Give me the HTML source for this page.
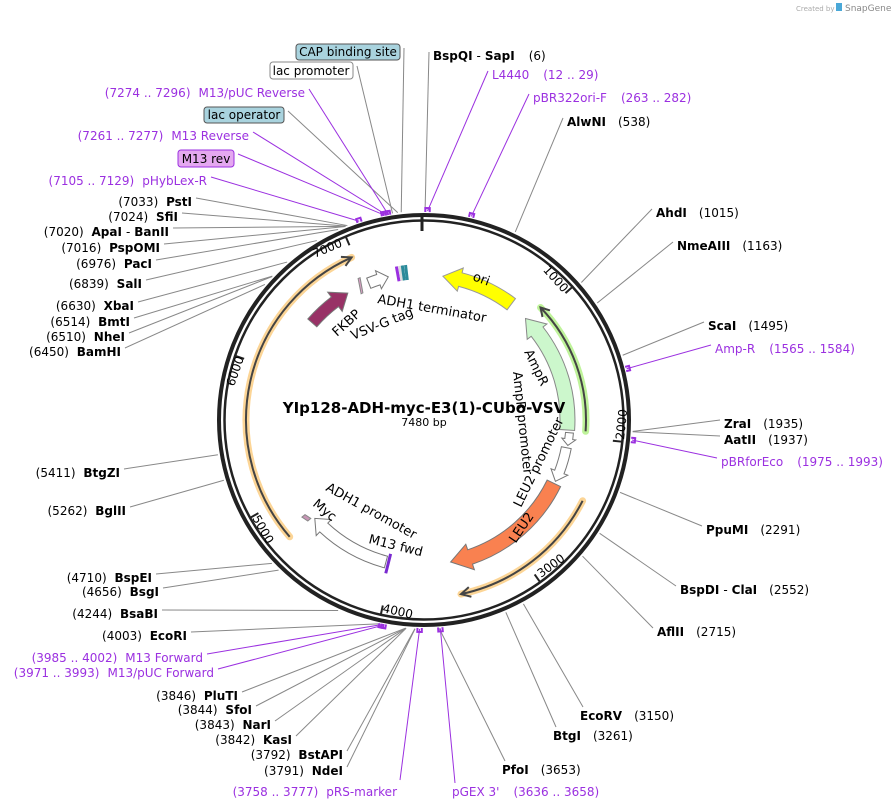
<!DOCTYPE html>
<html><head><meta charset="utf-8">
<style>
html,body{margin:0;padding:0;background:#fff;}
svg{display:block;font-family:"DejaVu Sans","Liberation Sans",sans-serif;}
.n{font-size:12px;fill:#000;}
.b{font-weight:bold;}
.p{fill:#9b30e0;font-size:12px;}
.f{font-size:13px;fill:#000;}
.t{font-size:12px;fill:#000;}
</style></head>
<body>
<svg id="s" width="894" height="811" viewBox="0 0 894 811" xmlns="http://www.w3.org/2000/svg">
<g id="geo"></g>
<circle cx="424" cy="420" r="205" fill="none" stroke="#222" stroke-width="4"/>
<circle cx="424" cy="420" r="199.5" fill="none" stroke="#222" stroke-width="2.5"/>
<rect x="420.5" y="215" width="3" height="16" fill="#222"/>
<g id="geo2"></g>

<text x="424" y="413" text-anchor="middle" style="font-size:15px;font-weight:bold">YIp128-ADH-myc-E3(1)-CUbo-VSV</text>
<text x="424" y="426" text-anchor="middle" style="font-size:11px">7480 bp</text>

<text class="t" transform="translate(563,293) rotate(48)" text-anchor="end">1000</text>
<text class="t" transform="translate(624,440) rotate(-84)" text-anchor="start">2000</text>
<text class="t" transform="translate(541,578) rotate(-36)" text-anchor="start">3000</text>
<text class="t" transform="translate(382,612) rotate(12.5)" text-anchor="start">4000</text>
<text class="t" transform="translate(252,518) rotate(60.6)" text-anchor="start">5000</text>
<text class="t" transform="translate(244,358) rotate(-71)" text-anchor="end">6000</text>
<text class="t" transform="translate(343,246) rotate(-23)" text-anchor="end">7000</text>

<text class="f" transform="translate(472,280) rotate(20)">ori</text>
<text class="f" transform="translate(377,303) rotate(10)">ADH1 terminator</text>
<text class="f" transform="translate(353,340) rotate(-22)">VSV-G tag</text>
<text class="f" transform="translate(337,337) rotate(-42)">FKBP</text>
<text class="f" transform="translate(524,352) rotate(64)">AmpR</text>
<text class="f" transform="translate(513,372) rotate(84)">AmpR promoter</text>
<text class="f" transform="translate(521,508) rotate(-64)">LEU2 promoter</text>
<text class="f" transform="translate(522,528) rotate(-56)" text-anchor="middle" dominant-baseline="central">LEU2</text>
<text class="f" transform="translate(325,490) rotate(29)">ADH1 promoter</text>
<text class="f" transform="translate(312,505) rotate(40)">Myc</text>
<text class="f" transform="translate(368,543) rotate(14)">M13 fwd</text>

<rect x="296" y="44" width="104" height="16" rx="3" fill="#a9d3de" stroke="#555"/>
<text class="n" x="348" y="56" text-anchor="middle">CAP binding site</text>
<rect x="270" y="62" width="83" height="17" rx="3" fill="#fff" stroke="#888"/>
<text class="n" x="311" y="75" text-anchor="middle">lac promoter</text>
<rect x="204" y="107" width="80" height="16" rx="3" fill="#a9d3de" stroke="#555"/>
<text class="n" x="244" y="119" text-anchor="middle">lac operator</text>
<rect x="178" y="150" width="56" height="17" rx="3" fill="#e4a8f0" stroke="#9b30e0"/>
<text class="n" x="206" y="163" text-anchor="middle">M13 rev</text>

<g text-anchor="end">
<text class="n" x="343" y="775">(3791) <tspan class="b" dx="4">NdeI</tspan></text>
<text class="n" x="343" y="759">(3792) <tspan class="b" dx="4">BstAPI</tspan></text>
<text class="n" x="292" y="744">(3842) <tspan class="b" dx="4">KasI</tspan></text>
<text class="n" x="271" y="729">(3843) <tspan class="b" dx="4">NarI</tspan></text>
<text class="n" x="252" y="714">(3844) <tspan class="b" dx="4">SfoI</tspan></text>
<text class="n" x="238" y="700">(3846) <tspan class="b" dx="4">PluTI</tspan></text>
<text class="p" x="214" y="677">(3971 .. 3993)<tspan dx="8">M13/pUC Forward</tspan></text>
<text class="p" x="203" y="662">(3985 .. 4002)<tspan dx="8">M13 Forward</tspan></text>
<text class="n" x="187" y="640">(4003) <tspan class="b" dx="4">EcoRI</tspan></text>
<text class="n" x="158" y="618">(4244) <tspan class="b" dx="4">BsaBI</tspan></text>
<text class="n" x="159" y="596">(4656) <tspan class="b" dx="4">BsgI</tspan></text>
<text class="n" x="152" y="582">(4710) <tspan class="b" dx="4">BspEI</tspan></text>
<text class="n" x="126" y="515">(5262) <tspan class="b" dx="4">BglII</tspan></text>
<text class="n" x="120" y="477">(5411) <tspan class="b" dx="4">BtgZI</tspan></text>
<text class="n" x="121" y="356">(6450) <tspan class="b" dx="4">BamHI</tspan></text>
<text class="n" x="125" y="341">(6510) <tspan class="b" dx="4">NheI</tspan></text>
<text class="n" x="130" y="326">(6514) <tspan class="b" dx="4">BmtI</tspan></text>
<text class="n" x="134" y="310">(6630) <tspan class="b" dx="4">XbaI</tspan></text>
<text class="n" x="142" y="288">(6839) <tspan class="b" dx="4">SalI</tspan></text>
<text class="n" x="152" y="268">(6976) <tspan class="b" dx="4">PacI</tspan></text>
<text class="n" x="160" y="252">(7016) <tspan class="b" dx="4">PspOMI</tspan></text>
<text class="n" x="169" y="236">(7020) <tspan class="b" dx="4">ApaI</tspan><tspan dx="4">-</tspan><tspan class="b" dx="4">BanII</tspan></text>
<text class="n" x="178" y="221">(7024) <tspan class="b" dx="4">SfiI</tspan></text>
<text class="n" x="192" y="206">(7033) <tspan class="b" dx="4">PstI</tspan></text>
<text class="p" x="207" y="185">(7105 .. 7129)<tspan dx="8">pHybLex-R</tspan></text>
<text class="p" x="249" y="140">(7261 .. 7277)<tspan dx="8">M13 Reverse</tspan></text>
<text class="p" x="305" y="97">(7274 .. 7296)<tspan dx="8">M13/pUC Reverse</tspan></text>
<text class="p" x="397" y="796">(3758 .. 3777)<tspan dx="8">pRS-marker</tspan></text>
</g>

<g>
<text class="n" x="433" y="60"><tspan class="b">BspQI</tspan><tspan dx="4">-</tspan><tspan class="b" dx="4">SapI</tspan><tspan dx="14">(6)</tspan></text>
<text class="p" x="492" y="79">L4440<tspan dx="14">(12 .. 29)</tspan></text>
<text class="p" x="533" y="102">pBR322ori-F<tspan dx="14">(263 .. 282)</tspan></text>
<text class="n" x="567" y="126"><tspan class="b">AlwNI</tspan><tspan dx="12">(538)</tspan></text>
<text class="n" x="656" y="217"><tspan class="b">AhdI</tspan><tspan dx="12">(1015)</tspan></text>
<text class="n" x="677" y="250"><tspan class="b">NmeAIII</tspan><tspan dx="12">(1163)</tspan></text>
<text class="n" x="708" y="330"><tspan class="b">ScaI</tspan><tspan dx="12">(1495)</tspan></text>
<text class="p" x="715" y="353">Amp-R<tspan dx="14">(1565 .. 1584)</tspan></text>
<text class="n" x="724" y="428"><tspan class="b">ZraI</tspan><tspan dx="12">(1935)</tspan></text>
<text class="n" x="724" y="444"><tspan class="b">AatII</tspan><tspan dx="12">(1937)</tspan></text>
<text class="p" x="721" y="466">pBRforEco<tspan dx="14">(1975 .. 1993)</tspan></text>
<text class="n" x="706" y="534"><tspan class="b">PpuMI</tspan><tspan dx="12">(2291)</tspan></text>
<text class="n" x="680" y="594"><tspan class="b">BspDI</tspan><tspan dx="4">-</tspan><tspan class="b" dx="4">ClaI</tspan><tspan dx="12">(2552)</tspan></text>
<text class="n" x="657" y="636"><tspan class="b">AflII</tspan><tspan dx="12">(2715)</tspan></text>
<text class="n" x="580" y="720"><tspan class="b">EcoRV</tspan><tspan dx="12">(3150)</tspan></text>
<text class="n" x="553" y="740"><tspan class="b">BtgI</tspan><tspan dx="12">(3261)</tspan></text>
<text class="n" x="502" y="774"><tspan class="b">PfoI</tspan><tspan dx="12">(3653)</tspan></text>
<text class="p" x="452" y="796">pGEX 3'<tspan dx="14">(3636 .. 3658)</tspan></text>
</g>

<text x="796" y="11" style="font-size:7px;fill:#aaa">Created by</text>
<rect x="836" y="3" width="6" height="8" fill="#4aa8d8"/>
<text x="845" y="11" style="font-size:9px;fill:#888">SnapGene</text>

<script>
(function(){
var cx=424,cy=420,NS="http://www.w3.org/2000/svg";
var g=document.getElementById("geo"),g2=document.getElementById("geo2");
function P(a,r){var t=a*Math.PI/180;return [cx+r*Math.sin(t),cy-r*Math.cos(t)];}
function s(p){return p[0].toFixed(1)+" "+p[1].toFixed(1);}
function el(par,n,at){var e=document.createElementNS(NS,n);for(var k in at)e.setAttribute(k,at[k]);par.appendChild(e);return e;}
function arc(a1,a2,r){var l=Math.abs(a2-a1)>180?1:0,sw=a2>a1?1:0;return "A "+r+" "+r+" 0 "+l+" "+sw+" "+s(P(a2,r));}
function block(a1,a2,r1,r2,hd,w,cw,fill,stroke){
 var m=(r1+r2)/2,d;
 if(cw){var h=a2-hd;d="M "+s(P(a1,r2))+" "+arc(a1,h,r2)+" L "+s(P(h,r2+w))+" L "+s(P(a2,m))+" L "+s(P(h,r1-w))+" L "+s(P(h,r1))+" "+arc(h,a1,r1)+" Z";}
 else{var h=a1+hd;d="M "+s(P(a1,m))+" L "+s(P(h,r2+w))+" L "+s(P(h,r2))+" "+arc(h,a2,r2)+" L "+s(P(a2,r1))+" "+arc(a2,h,r1)+" L "+s(P(h,r1-w))+" Z";}
 el(g,"path",{d:d,fill:fill,stroke:stroke,"stroke-width":1});
}
function line(a1,a2,r,cw,glow){
 var d="M "+s(P(a1,r))+" "+arc(a1,a2,r);
 el(g,"path",{d:d,fill:"none",stroke:glow,"stroke-width":7,"stroke-linecap":"round"});
 el(g,"path",{d:d,fill:"none",stroke:"#444","stroke-width":2});
 var tip=cw?a2:a1,b=cw?a2-3:a1+3;
 el(g,"path",{d:"M "+s(P(b,r+5))+" L "+s(P(tip,r))+" L "+s(P(b,r-5)),fill:"none",stroke:"#444","stroke-width":2});
}
line(229,336,178,true,"#fcd596");
line(117,168,178,true,"#fcd596");
line(46,94,162,false,"#bff39a");
block(45,94,136,151,7,5,false,"#ccf7cc","#888");
block(7.5,37,138,152,7,5,false,"#ffff00","#999");
block(116,169.4,137,152,8,6,true,"#f98150","#777");
block(101,115,140,150,4,4,true,"#fff","#777");
block(95,100,142,150,2.5,3,true,"#fff","#777");
block(195,228,141,153,5,5,true,"#fff","#777");
block(311,329,142,154,6,6,true,"#983266","#777");
block(338,346,142,153,4,4,true,"#fff","#777");
el(g,"path",{d:"M "+s(P(333.5,141))+" L "+s(P(335,156))+" L "+s(P(335.8,156))+" L "+s(P(334.3,141))+" Z",fill:"#d9a0c4",stroke:"#888"});
el(g,"path",{d:"M "+s(P(229,150))+" L "+s(P(231.5,152))+" L "+s(P(231.5,156))+" L "+s(P(229,154))+" Z",fill:"#c795b5",stroke:"#888"});
el(g,"line",{x1:P(194,138)[0],y1:P(194,138)[1],x2:P(194,158)[0],y2:P(194,158)[1],stroke:"#7a2ad0","stroke-width":3});
[[349.8,"#9b30e0"],[351,"#ddd"],[352,"#2a8a9a"],[353.2,"#2a8a9a"]].forEach(function(c){
 el(g,"line",{x1:P(c[0],141)[0],y1:P(c[0],141)[1],x2:P(c[0],156)[0],y2:P(c[0],156)[1],stroke:c[1],"stroke-width":3});});
[1000,2000,3000,4000,5000,6000,7000].forEach(function(b){var a=b/7480*360;
 el(g2,"line",{x1:P(a,199)[0],y1:P(a,199)[1],x2:P(a,190)[0],y2:P(a,190)[1],stroke:"#222","stroke-width":2});});
var L=[[343,771,3791],[343,755,3792],[292,740,3842],[271,725,3843],[252,710,3844],[238,696,3846],[214,673,3971,1],[203,658,3985,1],[187,636,4003],[158,614,4244],[159,592,4656],[152,578,4710],[126,511,5262],[120,473,5411],[121,352,6450],[125,337,6510],[130,322,6514],[134,306,6630],[142,284,6839],[152,264,6976],[160,248,7016],[169,232,7020],[178,217,7024],[192,202,7033],[207,181,7105,1],[234,158,7250,1],[249,136,7261,1],[284,115,7330],[305,93,7274,1],[353,70,7300],[400,52,7350],[397,788,3765,1,1]];
L.forEach(function(q){var a=q[2]/7480*360,e=P(a,209),x=q[0]+4,y=q[1]-4;
 if(q[4]){x=q[0]+3;y=q[1]-8;}
 el(g2,"line",{x1:x,y1:y,x2:e[0],y2:e[1],stroke:q[3]?"#9b30e0":"#888","stroke-width":1});
 if(q[3])primer(a);});
var R=[[433,56,6],[492,75,20,1],[533,98,272,1],[567,122,538],[656,213,1015],[677,246,1163],[708,326,1495],[715,349,1575,1],[724,424,1935],[724,440,1937],[721,462,1984,1],[706,530,2291],[680,590,2552],[657,632,2715],[580,716,3150,0,1],[553,736,3261,0,1],[502,770,3653,0,1],[452,792,3647,1,1]];
R.forEach(function(q){var a=q[2]/7480*360,e=P(a,209),x=q[0]-4,y=q[1]-4;
 if(q[4]){x=q[0]+3;y=q[1]-9;}
 el(g2,"line",{x1:x,y1:y,x2:e[0],y2:e[1],stroke:q[3]?"#9b30e0":"#888","stroke-width":1});
 if(q[3])primer(a);});
function primer(a){var p1=P(a-0.6,212),p2=P(a+0.6,212),p3=P(a-0.6,208),p4=P(a+0.6,208);
 el(g2,"path",{d:"M "+s(p3)+" L "+s(p1)+" L "+s(p2)+" L "+s(p4),fill:"none",stroke:"#9b30e0","stroke-width":2});}
})();
</script>
</svg>
</body></html>
